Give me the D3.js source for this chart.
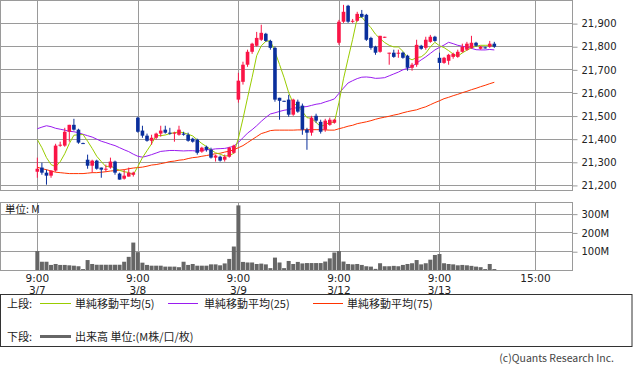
<!DOCTYPE html>
<html><head><meta charset="utf-8">
<script src="https://cdn.jsdelivr.net/npm/d3@7"></script>
<style>body{margin:0;background:#fff}svg{display:block}</style>
</head><body><svg id="c" width="633" height="370"></svg>
<script>
// ---- data ----
const dayLabels = ["3/7", "3/8", "3/9", "3/12", "3/13"];
const barsPerDay = 22;            // 15-minute bars per session day (9:00 ... 15:00)
const sessionOpenLabel = "9:00";
const sessionCloseLabel = "15:00";
const priceTicks = [21200, 21300, 21400, 21500, 21600, 21700, 21800, 21900];
const volumeTicks = [100, 200, 300];
const volumeTickLabels = ["100M", "200M", "300M"];

const open = [21257,21275,21253,21240,21262,21370,21370,21430,21460,21439,21381,21309,21283,21305,21275,21268,21275,21301,21249,21227,21236,21244,
  21491,21435,21413,21391,21404,21422,21439,21426,21422,21417,21422,21417,21400,21396,21344,21365,21352,21318,21322,21309,21322,21339,
  21569,21646,21720,21776,21802,21828,21854,21823,21793,21577,21564,21569,21504,21560,21543,21439,21426,21499,21473,21439,21460,21469,
  21815,21906,21975,21908,21910,21940,21936,21836,21798,21776,21839,21770,21772,21770,21772,21759,21707,21720,21802,21793,21819,21841,
  21750,21728,21737,21754,21754,21776,21785,21793,21815,21789,21795,21798,21811];
const high = [21318,21296,21266,21262,21378,21387,21447,21460,21486,21443,21383,21331,21309,21309,21275,21288,21318,21305,21253,21266,21275,21257,
  21495,21456,21422,21417,21426,21456,21456,21447,21430,21456,21430,21426,21404,21400,21365,21370,21361,21331,21327,21331,21365,21374,
  21685,21733,21785,21815,21862,21893,21858,21828,21798,21577,21564,21590,21573,21569,21552,21447,21499,21508,21482,21486,21491,21486,
  21914,21979,21979,21918,21949,21957,21940,21841,21802,21845,21841,21772,21785,21785,21776,21763,21728,21828,21806,21841,21849,21845,
  21772,21754,21767,21772,21785,21811,21819,21845,21819,21802,21798,21823,21819];
const low = [21231,21244,21201,21231,21257,21365,21365,21387,21435,21378,21378,21270,21253,21266,21231,21257,21270,21244,21223,21223,21236,21236,
  21426,21404,21387,21374,21396,21409,21422,21417,21387,21413,21413,21387,21383,21331,21339,21344,21314,21301,21301,21301,21318,21335,
  21556,21634,21711,21767,21798,21823,21819,21785,21560,21482,21560,21495,21499,21512,21417,21352,21413,21469,21422,21430,21456,21465,
  21806,21901,21901,21901,21906,21923,21823,21785,21763,21772,21836,21720,21750,21750,21746,21694,21694,21711,21785,21785,21815,21819,
  21698,21724,21720,21746,21750,21772,21780,21789,21798,21785,21789,21793,21793];
const close = [21270,21253,21240,21262,21370,21374,21430,21460,21439,21383,21378,21283,21305,21270,21266,21270,21301,21253,21223,21240,21253,21253,
  21430,21413,21391,21404,21422,21435,21426,21422,21426,21439,21417,21391,21387,21339,21361,21352,21318,21327,21305,21322,21361,21370,
  21651,21720,21776,21811,21836,21858,21823,21793,21569,21564,21562,21504,21569,21517,21439,21426,21491,21478,21430,21478,21482,21482,
  21906,21949,21906,21910,21940,21927,21828,21793,21772,21845,21841,21772,21754,21772,21750,21707,21720,21806,21789,21828,21841,21823,
  21728,21750,21763,21767,21776,21798,21811,21815,21802,21798,21793,21811,21798];
const volume = [101,44,44,27,32,27,27,25,23,20,5,53,32,28,28,28,28,28,28,44,70,146,
  95,39,27,23,23,23,18,18,18,15,44,27,32,23,23,23,30,30,25,35,59,125,
  344,43,40,40,32,34,30,10,66,40,10,48,32,43,35,37,37,37,37,45,62,93,
  101,45,32,30,32,27,20,18,6,36,20,20,22,20,27,32,36,53,30,36,55,80,
  85,36,32,30,25,27,25,22,18,15,5,32,5];
const ma5 = [21396,21361,21318,21288,21279,21300,21335,21379,21415,21417,21418,21389,21358,21324,21301,21279,21282,21272,21263,21257,21254,21244,
  21280,21318,21348,21378,21413,21413,21416,21422,21426,21429,21426,21419,21412,21395,21379,21366,21352,21339,21333,21325,21327,21337,
  21402,21486,21577,21665,21759,21802,21821,21824,21776,21721,21664,21599,21553,21543,21518,21491,21488,21470,21453,21460,21472,21470,
  21556,21659,21746,21830,21922,21926,21902,21880,21852,21833,21816,21804,21797,21797,21778,21751,21741,21751,21754,21770,21797,21817,
  21802,21794,21781,21766,21757,21771,21783,21793,21800,21804,21804,21804,21800];
const ma25 = [21443,21450,21456,21452,21445,21441,21437,21432,21430,21426,21419,21413,21407,21398,21389,21383,21376,21370,21361,21352,21344,21333,
  21324,21320,21325,21331,21338,21345,21347,21349,21349,21348,21347,21348,21348,21346,21349,21352,21353,21356,21357,21358,21362,21368,
  21384,21404,21424,21439,21456,21475,21492,21507,21512,21518,21523,21526,21531,21535,21537,21539,21544,21549,21552,21559,21565,21572,
  21596,21619,21641,21651,21660,21666,21667,21665,21661,21662,21664,21672,21680,21688,21698,21704,21712,21727,21741,21754,21769,21784,
  21795,21805,21817,21811,21804,21800,21796,21791,21785,21784,21784,21786,21784];
const ma75 = [21277,21270,21266,21260,21255,21253,21251,21249,21249,21249,21249,21251,21253,21253,21255,21257,21260,21262,21264,21266,21270,21273,
  21275,21277,21281,21286,21288,21292,21296,21301,21303,21307,21309,21314,21318,21320,21324,21327,21331,21335,21337,21342,21346,21352,
  21361,21370,21383,21396,21409,21422,21428,21435,21437,21437,21437,21437,21437,21438,21438,21439,21439,21439,21439,21438,21437,21437,
  21443,21448,21454,21458,21465,21469,21473,21478,21484,21489,21493,21497,21502,21506,21512,21517,21521,21525,21532,21538,21547,21556,
  21564,21573,21579,21586,21592,21599,21605,21612,21618,21625,21631,21638,21644];

const legendItems = [
  {label: "単純移動平均(5)", color: "#99cc00", series: ma5},
  {label: "単純移動平均(25)", color: "#9a1cf0", series: ma25},
  {label: "単純移動平均(75)", color: "#ff3300", series: ma75}
];

// ---- layout ----
const svg = d3.select("#c");
const plotL = 0.5, plotR = 572.5;
const mainT = 0.5, mainB = 190.5;
const volT = 202.5, volB = 270.5;
const gridColor = "#9a9a9a";
const upColor = "#fa1446", downColor = "#0a2f9c";
const labelFont = "'DejaVu Sans', sans-serif";
const jpFont = "'Noto Sans CJK JP', sans-serif";

const x = d3.scaleLinear().domain([-8.17, 117]).range([0, 572]);
const y = d3.scaleLinear().domain([21178, 22000]).range([190, 0]);
const yv = d3.scaleLinear().domain([0, 362]).range([270, 202]);
const crisp = v => Math.round(v) + 0.5;

const idx = d3.range(close.length);
const dayStarts = dayLabels.map((d, k) => k * barsPerDay);
const closeIdx = dayStarts[dayStarts.length - 1] + barsPerDay - 1;

// main panel grid
const gMain = svg.append("g");
gMain.selectAll("line.h").data(priceTicks).join("line")
  .attr("x1", plotL).attr("x2", plotR)
  .attr("y1", d => crisp(y(d))).attr("y2", d => crisp(y(d)))
  .attr("stroke", gridColor).attr("stroke-width", 1);
gMain.selectAll("line.v").data([...dayStarts, closeIdx]).join("line")
  .attr("x1", d => crisp(x(d))).attr("x2", d => crisp(x(d)))
  .attr("y1", mainT).attr("y2", mainB)
  .attr("stroke", gridColor);
gMain.append("rect").attr("x", plotL).attr("y", mainT)
  .attr("width", plotR - plotL).attr("height", mainB - mainT)
  .attr("fill", "none").attr("stroke", gridColor);

// right price axis
const yAxis = d3.axisRight(y).tickValues(priceTicks).tickSize(5).tickPadding(4)
  .tickFormat(d3.format(","));
const ga = svg.append("g").attr("transform", `translate(${plotR},0.5)`).call(yAxis);
ga.select(".domain").remove();
ga.selectAll("line").attr("stroke", gridColor);
ga.selectAll("text").attr("font-family", labelFont).attr("font-size", 10).attr("fill", "#222");

// MA lines
const lineGen = s => d3.line().x(i => x(i)).y(i => y(s[i]));
legendItems.slice().reverse().forEach(it => {
  svg.append("path").attr("d", lineGen(it.series)(idx))
    .attr("fill", "none").attr("stroke", it.color).attr("stroke-width", 1);
});

// candles
const bw = 3.6;
const gC = svg.append("g");
idx.forEach(i => {
  const up = close[i] >= open[i];
  const col = up ? upColor : downColor;
  const cx = x(i);
  gC.append("line").attr("x1", cx).attr("x2", cx)
    .attr("y1", y(high[i])).attr("y2", y(low[i]))
    .attr("stroke", col).attr("stroke-width", 1);
  const top = y(Math.max(open[i], close[i])), bot = y(Math.min(open[i], close[i]));
  gC.append("rect").attr("x", cx - bw / 2).attr("y", top)
    .attr("width", bw).attr("height", Math.max(1, bot - top)).attr("fill", col);
});

// volume panel
const gV = svg.append("g");
gV.selectAll("line.h").data(volumeTicks).join("line")
  .attr("x1", plotL).attr("x2", plotR)
  .attr("y1", d => crisp(yv(d))).attr("y2", d => crisp(yv(d)))
  .attr("stroke", gridColor);
gV.selectAll("line.v").data([...dayStarts, closeIdx]).join("line")
  .attr("x1", d => crisp(x(d))).attr("x2", d => crisp(x(d)))
  .attr("y1", volT).attr("y2", volB).attr("stroke", gridColor);
gV.append("rect").attr("x", plotL).attr("y", volT)
  .attr("width", plotR - plotL).attr("height", volB - volT)
  .attr("fill", "none").attr("stroke", gridColor);
gV.selectAll("rect.bar").data(idx).join("rect")
  .attr("x", i => x(i) - 2).attr("width", 4)
  .attr("y", i => yv(volume[i])).attr("height", i => yv(0) - yv(volume[i]))
  .attr("fill", "#666");
const vAxis = d3.axisRight(yv).tickValues(volumeTicks).tickSize(5).tickPadding(4)
  .tickFormat((d, k) => volumeTickLabels[k]);
const gva = svg.append("g").attr("transform", `translate(${plotR},0.5)`).call(vAxis);
gva.select(".domain").remove();
gva.selectAll("line").attr("stroke", gridColor);
gva.selectAll("text").attr("font-family", labelFont).attr("font-size", 10).attr("fill", "#222");
svg.append("text").attr("x", 5).attr("y", 213).text("単位: M")
  .attr("font-family", jpFont).attr("font-size", 10.5).attr("fill", "#222");

// x labels
const gx = svg.append("g").attr("font-family", labelFont).attr("font-size", 10.5)
  .attr("fill", "#222").attr("text-anchor", "middle");
dayStarts.forEach((d, k) => {
  gx.append("text").attr("x", x(d)).attr("y", 282).text(sessionOpenLabel);
  gx.append("text").attr("x", x(d)).attr("y", 294).text(dayLabels[k]);
});
gx.append("text").attr("x", x(closeIdx)).attr("y", 282).text(sessionCloseLabel);

// legend
const gl = svg.append("g").attr("font-family", jpFont).attr("font-size", 11).attr("fill", "#222");
gl.append("rect").attr("x", 0.5).attr("y", 294.5).attr("width", 631.5).attr("height", 52)
  .attr("fill", "none").attr("stroke", "#333");
gl.append("text").attr("x", 7).attr("y", 308).text("上段:");
const legX = [[40, 71, 75], [168, 198, 204], [313, 343, 347]];
legendItems.forEach((it, k) => {
  gl.append("line").attr("x1", legX[k][0]).attr("x2", legX[k][1]).attr("y1", 303.5).attr("y2", 303.5)
    .attr("stroke", it.color).attr("stroke-width", 1);
  gl.append("text").attr("x", legX[k][2]).attr("y", 308).text(it.label);
});
gl.append("text").attr("x", 7).attr("y", 341).text("下段:");
gl.append("line").attr("x1", 40).attr("x2", 71).attr("y1", 336.5).attr("y2", 336.5)
  .attr("stroke", "#666").attr("stroke-width", 3);
gl.append("text").attr("x", 75).attr("y", 341).text("出来高 単位:(M株/口/枚)");

svg.append("text").attr("x", 614).attr("y", 362).attr("text-anchor", "end")
  .attr("font-family", jpFont).attr("font-size", 10.5).attr("fill", "#444")
  .text("(c)Quants Research Inc.");
</script>
</body></html>
